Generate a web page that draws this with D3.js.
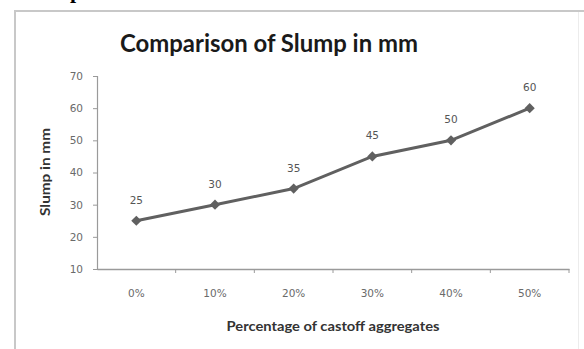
<!DOCTYPE html>
<html><head><meta charset="utf-8">
<script src="https://cdn.jsdelivr.net/npm/d3@7"></script>
<style>body{margin:0;background:#fff}svg{display:block}</style>
</head><body>
<script>
const categories = ["0%","10%","20%","30%","40%","50%"];
const slump = [25,30,35,45,50,60];
const yTicks = [10,20,30,40,50,60,70];
const title = "Comparison of Slump in mm";
const xTitle = "Percentage of castoff aggregates";
const yTitle = "Slump in mm";

const W = 584, H = 349;
const svg = d3.select("body").append("svg").attr("width",W).attr("height",H);

// cropped glyph from surrounding document
svg.append("text").attr("x",70).attr("y",-2).attr("font-family","Liberation Serif").attr("font-weight","bold").attr("font-size",22).attr("fill","#000").text("p");

// chart frame
svg.append("line").attr("x1",14).attr("x2",584).attr("y1",11).attr("y2",11).attr("stroke","#c8c8c8").attr("stroke-width",2);
svg.append("line").attr("x1",15).attr("x2",15).attr("y1",10).attr("y2",H).attr("stroke","#c8c8c8").attr("stroke-width",2);
svg.append("line").attr("x1",578.5).attr("x2",578.5).attr("y1",12).attr("y2",H).attr("stroke","#ececec").attr("stroke-width",1);

const mL = 97, mR = 569, mT = 76, mB = 269;
const x = d3.scaleBand().domain(categories).range([mL,mR]);
const y = d3.scaleLinear().domain([10,70]).range([mB,mT]);

const gy = svg.append("g").attr("transform",`translate(${mL},0)`)
  .call(d3.axisLeft(y).tickValues(yTicks).tickSize(4).tickPadding(10));
gy.select(".domain").attr("stroke","#9a9a9a").attr("stroke-width",1.2);
gy.selectAll(".tick line").attr("stroke","#9a9a9a");
gy.selectAll("text").attr("font-family","DejaVu Sans").attr("font-size",10.5).attr("fill","#6a6a6a");

const gx = svg.append("g").attr("transform",`translate(0,${mB})`)
  .call(d3.axisBottom(x).tickSize(0).tickPadding(21).tickSizeOuter(0));
gx.select(".domain").attr("stroke","#9a9a9a").attr("stroke-width",1.5);
gx.selectAll("text").attr("font-family","DejaVu Sans").attr("font-size",10.5).attr("fill","#6a6a6a");
// category boundary ticks
svg.append("g").selectAll("line").data(categories).join("line")
  .attr("x1",d=>x(d)+x.bandwidth()).attr("x2",d=>x(d)+x.bandwidth())
  .attr("y1",mB).attr("y2",mB+4).attr("stroke","#9a9a9a");

const pts = categories.map((c,i)=>({c,v:slump[i]}));
svg.append("path").datum(pts)
  .attr("d", d3.line().x(d=>x(d.c)+x.bandwidth()/2).y(d=>y(d.v)))
  .attr("fill","none").attr("stroke","#606060").attr("stroke-width",3);
svg.append("g").selectAll("path").data(pts).join("path")
  .attr("d", d3.symbol(d3.symbolSquare, 52))
  .attr("transform", d=>`translate(${x(d.c)+x.bandwidth()/2},${y(d.v)}) rotate(45)`)
  .attr("fill","#606060");
svg.append("g").selectAll("text").data(pts).join("text")
  .attr("x", d=>x(d.c)+x.bandwidth()/2).attr("y", d=>y(d.v)-17)
  .attr("text-anchor","middle").attr("font-family","DejaVu Sans").attr("font-size",10.5).attr("fill","#555")
  .text(d=>d.v);

svg.append("text").attr("x",269).attr("y",52).attr("text-anchor","middle")
  .attr("font-family","Lato").attr("font-weight","bold").attr("font-size",24).attr("fill","#1a1a1a")
  .attr("textLength",298).attr("lengthAdjust","spacingAndGlyphs").text(title);
svg.append("text").attr("x",333).attr("y",331).attr("text-anchor","middle")
  .attr("font-family","Lato").attr("font-weight","bold").attr("font-size",13).attr("fill","#333")
  .attr("textLength",213).attr("lengthAdjust","spacingAndGlyphs").text(xTitle);
svg.append("text").attr("transform","translate(50,172) rotate(-90)").attr("text-anchor","middle")
  .attr("font-family","Lato").attr("font-weight","bold").attr("font-size",13).attr("fill","#333")
  .attr("textLength",88).attr("lengthAdjust","spacingAndGlyphs").text(yTitle);
</script>
</body></html>
